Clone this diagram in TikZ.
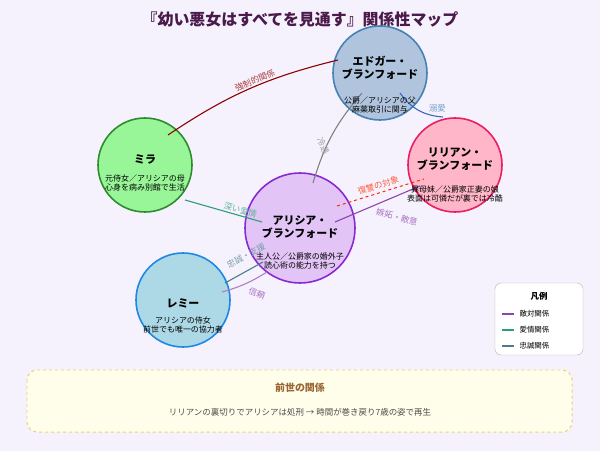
\documentclass[tikz,border=0pt]{standalone}
\usepackage{fontspec}
\setmainfont{Noto Sans CJK JP}
\usetikzlibrary{positioning}
\definecolor{bgc}{HTML}{F6F2FD}
\definecolor{titlec}{HTML}{4A1A4A}
\definecolor{edgfill}{HTML}{B0C4DE}\definecolor{edgline}{HTML}{4682B4}
\definecolor{mirfill}{HTML}{98F598}\definecolor{mirline}{HTML}{2E8B2E}
\definecolor{lilfill}{HTML}{FFB6C8}\definecolor{lilline}{HTML}{E91E63}
\definecolor{alifill}{HTML}{E2C4F6}\definecolor{aliline}{HTML}{8A2BD2}
\definecolor{remfill}{HTML}{ADD8E6}\definecolor{remline}{HTML}{1E88E5}
\definecolor{hostc}{HTML}{8E44AD}\definecolor{lovec}{HTML}{2E9B7A}\definecolor{loyc}{HTML}{4A7C8C}
\tikzset{
  person/.style={circle, draw=#1line, fill=#1fill, line width=1.6pt, minimum size=94bp, align=center, inner sep=0pt},
  pname/.style={font=\bfseries\fontsize{11}{12.5}\selectfont, inner sep=0pt},
  pnote/.style={font=\fontsize{8}{9.5}\selectfont, inner sep=0pt},
  rel/.style={line width=1.1pt},
  rellabel/.style={font=\fontsize{8.5}{10}\selectfont, text=#1!75, inner sep=1pt}
}
\begin{document}
\begin{tikzpicture}[x=1bp,y=-1bp]
  \fill[bgc] (0,0) rectangle (600,451);
  \node[font=\bfseries\fontsize{16}{18}\selectfont, text=titlec] (title) at (300,19) {『幼い悪女はすべてを見通す』関係性マップ};

  % characters
  \node[person=edg] (edgar) at (380,73) {};
  \node[person=mir] (mira) at (145,165) {};
  \node[person=lil] (lilian) at (455,165) {};
  \node[person=ali, minimum size=110bp] (alicia) at (300,228) {};
  \node[person=rem] (remy) at (183,300) {};

  % relations
  \coordinate (e1) at (338,60); \coordinate (m1) at (168,135);
  \draw[rel, red!55!black] (m1) to[bend left=10] node[pos=.55, above, sloped, rellabel=red!55!black] {強制的関係} (e1);
  \coordinate (e2) at (400,93); \coordinate (l1) at (443,117);
  \draw[rel, edgline!80!blue] (e2) to[bend right=25] node[pos=.7, above right, rellabel=edgline] {溺愛} (l1);
  \coordinate (e3) at (362,93); \coordinate (a1) at (313,183);
  \draw[rel, gray] (e3) to[bend right=12] (a1);
  \node[rellabel=gray, rotate=-65] (coldlabel) at (323,146) {冷遇};
  \coordinate (m2) at (185,200); \coordinate (a2) at (262,222);
  \draw[rel, lovec] (m2) -- node[pos=.7, above, sloped, rellabel=lovec] {深い愛情} (a2);
  \coordinate (a3) at (335,222); \coordinate (l2) at (420,186);
  \draw[rel, hostc] (a3) -- (l2);
  \node[rellabel=hostc, rotate=-15] (envylabel) at (397,217) {嫉妬・敵意};
  \coordinate (a4) at (337,206); \coordinate (l3) at (424,179);
  \draw[rel, red!70!orange, dashed, line width=1pt] (a4) -- node[pos=.5, above=2bp, sloped, rellabel=red!70!orange] {復讐の対象} (l3);
  \coordinate (r1) at (225,283); \coordinate (a5) at (263,262);
  \draw[rel, loyc] (r1) -- (a5);
  \node[rellabel=loyc, rotate=28] (loyallabel) at (246,256) {忠誠・支援};
  \coordinate (r2) at (222,292); \coordinate (a6) at (267,272);
  \draw[rel, hostc!70] (r2) to[bend right=8] (a6);
  \node[rellabel=hostc, rotate=-20] (trustlabel) at (257,293) {信頼};

  % texts inside circles
  \node[pname, align=center] at (380,68) {エドガー・\\ブランフォード};
  \node[pnote, align=center] at (380,105) {公爵／アリシアの父\\麻薬取引に関与};
  \node[pname] at (145,160) {ミラ};
  \node[pnote, align=center] at (145,183) {元侍女／アリシアの母\\心身を病み別館で生活};
  \node[pname, align=center] at (455,159) {リリアン・\\ブランフォード};
  \node[pnote, align=center] at (455,194) {異母妹／公爵家正妻の娘\\表面は可憐だが裏では冷酷};
  \node[pname, align=center] at (300,227) {アリシア・\\ブランフォード};
  \node[pnote, align=center] at (300,261) {主人公／公爵家の婚外子\\読心術の能力を持つ};
  \node[pname] at (183,303) {レミー};
  \node[pnote, align=center] at (183,325) {アリシアの侍女\\前世でも唯一の協力者};

  % legend
  \draw[gray!60, fill=white, rounded corners=6bp] (495,283) rectangle (583,355);
  \node[font=\bfseries\fontsize{8.5}{10}\selectfont] (legend) at (539,296) {凡例};
  \foreach \c/\t [count=\i] in {hostc/敵対関係, lovec/愛情関係, loyc/忠誠関係}{
    \draw[\c, line width=1.1pt] (502,{298+\i*16}) -- (514,{298+\i*16});
    \node[anchor=west, font=\fontsize{7.5}{9}\selectfont] at (516,{298+\i*16}) {\t};
  }

  % bottom note
  \draw[dashed, draw=yellow!50!brown!70, fill=yellow!8, line width=1pt, rounded corners=10bp] (27,370) rectangle (572,432);
  \node[font=\bfseries\fontsize{10}{12}\selectfont, text=brown!80!black] (pastt) at (300,388) {前世の関係};
  \node[font=\fontsize{8.5}{10}\selectfont, text=black!70] (past) at (300,412) {リリアンの裏切りでアリシアは処刑 → 時間が巻き戻り7歳の姿で再生};
\end{tikzpicture}
\end{document}
